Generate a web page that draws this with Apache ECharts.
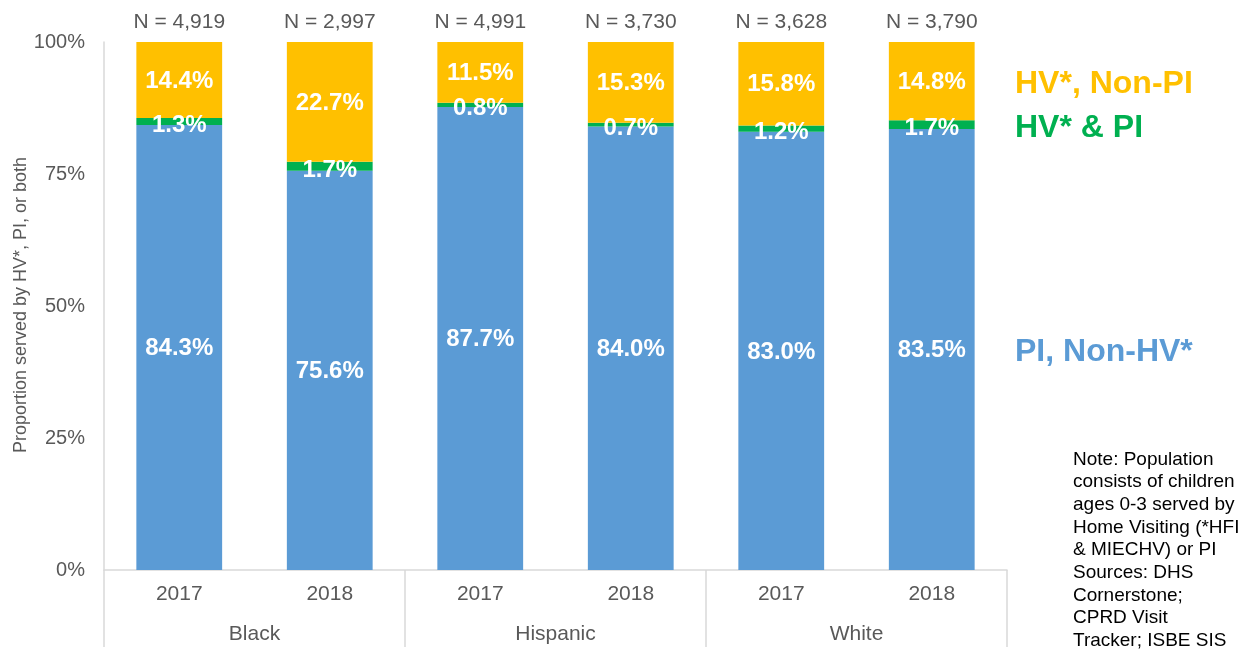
<!DOCTYPE html>
<html>
<head>
<meta charset="utf-8">
<script src="https://cdn.jsdelivr.net/npm/echarts@6/dist/echarts.min.js"></script>
<style>
  html, body { margin: 0; padding: 0; background: #fff; }
  #chart { width: 1259px; height: 651px; }
</style>
</head>
<body>
<div id="chart"></div>
<script>
const years = ["2017", "2018", "2017", "2018", "2017", "2018"];
const groups = ["Black", "Hispanic", "White"];
const nLabels = ["N = 4,919", "N = 2,997", "N = 4,991", "N = 3,730", "N = 3,628", "N = 3,790"];
const piNonHv = [84.3, 75.6, 87.7, 84.0, 83.0, 83.5];
const hvAndPi = [1.3, 1.7, 0.8, 0.7, 1.2, 1.7];
const hvNonPi = [14.4, 22.7, 11.5, 15.3, 15.8, 14.8];
const yTicks = [0, 25, 50, 75, 100];

const font = "Liberation Sans, Arial, sans-serif";
const gray = "#595959";
const lineGray = "#d9d9d9";

const chart = echarts.init(document.getElementById("chart"));

// white bold labels inside the segments
function segLabel(offset) {
    return {
        show: true,
        position: "inside",
        offset: offset,
        color: "#fff",
        fontFamily: font,
        fontWeight: "bold",
        fontSize: 24,
        formatter: (p) => p.value.toFixed(1) + "%",
    };
}

const option = {
    animation: false,
    grid: { left: 104, right: 252, top: 42, bottom: 81 },
    xAxis: [
        {
            type: "category",
            data: years,
            position: "bottom",
            axisLine: { show: true, lineStyle: { color: lineGray, width: 1.5 } },
            axisTick: { show: false },
            axisLabel: { color: gray, fontFamily: font, fontSize: 21, margin: 14 },
        },
        {
            type: "category",
            data: groups,
            position: "bottom",
            axisLine: { show: false },
            axisTick: { show: true, length: 77, interval: 0, lineStyle: { color: lineGray, width: 1.5 } },
            axisLabel: { color: gray, fontFamily: font, fontSize: 21, margin: 54 },
        },
        {
            type: "category",
            data: nLabels,
            position: "top",
            axisLine: { show: false },
            axisTick: { show: false },
            axisLabel: { color: gray, fontFamily: font, fontSize: 21, margin: 9 },
        },
    ],
    yAxis: {
        type: "value",
        min: 0,
        max: 100,
        interval: 25,
        splitLine: { show: false },
        axisLine: { show: true, lineStyle: { color: lineGray, width: 1.5 } },
        axisTick: { show: false },
        axisLabel: {
            color: gray,
            fontFamily: font,
            fontSize: 20,
            margin: 19,
            formatter: (v) => (yTicks.includes(v) ? v + "%" : ""),
        },
    },
    series: [
        {
            name: "PI, Non-HV*",
            type: "bar",
            stack: "total",
            barWidth: "57%",
            itemStyle: { color: "#5b9bd5" },
            label: segLabel([0, 1]),
            data: piNonHv,
        },
        {
            name: "HV* & PI",
            type: "bar",
            stack: "total",
            itemStyle: { color: "#00b050" },
            label: segLabel([0, 4]),
            data: hvAndPi,
        },
        {
            name: "HV*, Non-PI",
            type: "bar",
            stack: "total",
            itemStyle: { color: "#ffc000" },
            label: segLabel([0, 1]),
            data: hvNonPi,
        },
    ],
    graphic: [
        {
            type: "text", x: 21, y: 305, rotation: Math.PI / 2,
            style: {
                text: "Proportion served by HV*, PI, or both",
                fill: gray, font: "18px " + font, textAlign: "center", textVerticalAlign: "middle",
            },
        },
        {
            type: "text", x: 1015, y: 84,
            style: { text: "HV*, Non-PI", fill: "#ffc000", font: "bold 32px " + font, textVerticalAlign: "middle" },
        },
        {
            type: "text", x: 1015, y: 128,
            style: { text: "HV* & PI", fill: "#00b050", font: "bold 32px " + font, textVerticalAlign: "middle" },
        },
        {
            type: "text", x: 1015, y: 352,
            style: { text: "PI, Non-HV*", fill: "#5b9bd5", font: "bold 32px " + font, textVerticalAlign: "middle" },
        },
        {
            type: "text", x: 1073, y: 448,
            style: {
                text: "Note: Population\nconsists of children\nages 0-3 served by\nHome Visiting (*HFI\n& MIECHV) or PI\nSources: DHS\nCornerstone;\nCPRD Visit\nTracker; ISBE SIS",
                fill: "#000", font: "19px " + font, lineHeight: 22.7,
            },
        },
    ],
};
chart.setOption(option);
</script>
</body>
</html>
